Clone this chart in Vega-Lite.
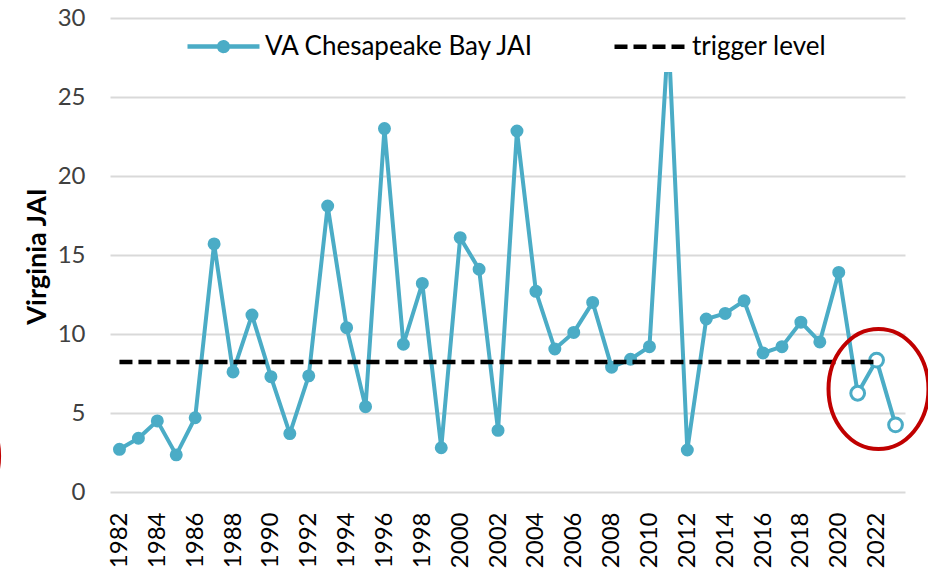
{
  "$schema": "https://vega.github.io/schema/vega-lite/v6.json",
  "width": 795,
  "height": 474,
  "autosize": {"type": "none"},
  "padding": {"left": 110, "top": 18, "right": 23, "bottom": 78},
  "background": "white",
  "config": {"view": {"stroke": null}, "font": "Lato"},
  "datasets": {
    "jai": [
      {"year": 1982, "jai": 2.7, "prelim": false},
      {"year": 1983, "jai": 3.4, "prelim": false},
      {"year": 1984, "jai": 4.5, "prelim": false},
      {"year": 1985, "jai": 2.35, "prelim": false},
      {"year": 1986, "jai": 4.7, "prelim": false},
      {"year": 1987, "jai": 15.7, "prelim": false},
      {"year": 1988, "jai": 7.6, "prelim": false},
      {"year": 1989, "jai": 11.2, "prelim": false},
      {"year": 1990, "jai": 7.3, "prelim": false},
      {"year": 1991, "jai": 3.7, "prelim": false},
      {"year": 1992, "jai": 7.35, "prelim": false},
      {"year": 1993, "jai": 18.1, "prelim": false},
      {"year": 1994, "jai": 10.4, "prelim": false},
      {"year": 1995, "jai": 5.4, "prelim": false},
      {"year": 1996, "jai": 23.0, "prelim": false},
      {"year": 1997, "jai": 9.35, "prelim": false},
      {"year": 1998, "jai": 13.2, "prelim": false},
      {"year": 1999, "jai": 2.8, "prelim": false},
      {"year": 2000, "jai": 16.1, "prelim": false},
      {"year": 2001, "jai": 14.1, "prelim": false},
      {"year": 2002, "jai": 3.9, "prelim": false},
      {"year": 2003, "jai": 22.85, "prelim": false},
      {"year": 2004, "jai": 12.7, "prelim": false},
      {"year": 2005, "jai": 9.05, "prelim": false},
      {"year": 2006, "jai": 10.1, "prelim": false},
      {"year": 2007, "jai": 12.0, "prelim": false},
      {"year": 2008, "jai": 7.9, "prelim": false},
      {"year": 2009, "jai": 8.4, "prelim": false},
      {"year": 2010, "jai": 9.2, "prelim": false},
      {"year": 2011, "jai": 29.0, "prelim": false},
      {"year": 2012, "jai": 2.66, "prelim": false},
      {"year": 2013, "jai": 10.95, "prelim": false},
      {"year": 2014, "jai": 11.3, "prelim": false},
      {"year": 2015, "jai": 12.1, "prelim": false},
      {"year": 2016, "jai": 8.8, "prelim": false},
      {"year": 2017, "jai": 9.2, "prelim": false},
      {"year": 2018, "jai": 10.75, "prelim": false},
      {"year": 2019, "jai": 9.5, "prelim": false},
      {"year": 2020, "jai": 13.9, "prelim": false},
      {"year": 2021, "jai": 6.25, "prelim": true},
      {"year": 2022, "jai": 8.35, "prelim": true},
      {"year": 2023, "jai": 4.25, "prelim": true}
    ],
    "trigger": [
      {"year": 1982, "jai": 8.23},
      {"year": 2022, "jai": 8.23}
    ],
    "circles": [
      {"year": 2022.1, "jai": 6.52},
      {"year": 1973.0, "jai": 2.28}
    ]
  },
  "encoding": {
    "x": {
      "field": "year",
      "type": "quantitative",
      "scale": {"domain": [1981.5, 2023.5], "nice": false, "zero": false},
      "axis": {
        "values": [1982, 1984, 1986, 1988, 1990, 1992, 1994, 1996, 1998, 2000, 2002, 2004, 2006, 2008, 2010, 2012, 2014, 2016, 2018, 2020, 2022],
        "format": "d",
        "labelAngle": -90,
        "labelFont": "Lato",
        "labelFontSize": 24,
        "labelColor": "black",
        "labelPadding": 20,
        "labelFlush": false,
        "labelOverlap": false,
        "ticks": false,
        "tickSize": 0,
        "domain": false,
        "grid": false,
        "title": null
      }
    },
    "y": {
      "field": "jai",
      "type": "quantitative",
      "scale": {"domain": [0, 30], "nice": false},
      "axis": {
        "values": [0, 5, 10, 15, 20, 25, 30],
        "labelFont": "Lato",
        "labelFontSize": 24,
        "labelColor": "#404040",
        "labelPadding": 25,
        "ticks": false,
        "tickSize": 0,
        "domain": false,
        "grid": true,
        "gridColor": "#D9D9D9",
        "gridWidth": 2,
        "title": "Virginia JAI",
        "titleFont": "Lato",
        "titleFontSize": 27,
        "titleFontWeight": "bold",
        "titleColor": "black",
        "titleX": -73,
        "titleY": 238,
        "titleAngle": -90,
        "titleAlign": "center",
        "titleBaseline": "middle"
      }
    }
  },
  "layer": [
    {
      "data": {"name": "jai"},
      "mark": {"type": "line", "strokeWidth": 4},
      "encoding": {
        "color": {
          "datum": "VA Chesapeake Bay JAI",
          "type": "nominal",
          "scale": {"domain": ["VA Chesapeake Bay JAI", "trigger level"], "range": ["#4BACC6", "black"]},
          "legend": {
            "orient": "none",
            "legendX": 87,
            "legendY": 2,
            "direction": "horizontal",
            "title": null,
            "fillColor": "white",
            "padding": 12,
            "symbolType": "stroke",
            "symbolSize": 576,
            "symbolStrokeWidth": 4.5,
            "labelFont": "Lato",
            "labelFontSize": 26,
            "labelColor": "black",
            "labelLimit": 600,
            "labelOffset": 27,
            "columnPadding": 70,
            "encode": {
              "symbols": {
                "update": {
                  "shape": {"signal": "datum.value === 'VA Chesapeake Bay JAI' ? 'M-3,0H3M0.36,0A0.36,0.36,0,1,1,-0.36,0A0.36,0.36,0,1,1,0.36,0Z' : 'M-3,0H3'"},
                  "fill": {"signal": "datum.value === 'VA Chesapeake Bay JAI' ? '#4BACC6' : 'transparent'"},
                  "strokeDash": {"signal": "datum.value === 'trigger level' ? [13, 6] : [1, 0]"}
                }
              }
            }
          }
        }
      }
    },
    {
      "data": {"name": "jai"},
      "mark": {"type": "point", "shape": "circle", "stroke": "#4BACC6", "strokeWidth": 2.5, "opacity": 1},
      "encoding": {
        "fill": {"condition": {"test": "datum.prelim", "value": "white"}, "value": "#4BACC6"},
        "size": {"condition": {"test": "datum.prelim", "value": 190}, "value": 110},
        "strokeWidth": {"condition": {"test": "datum.prelim", "value": 3}, "value": 2.5}
      }
    },
    {
      "data": {"name": "trigger"},
      "mark": {"type": "line", "strokeWidth": 4.5, "strokeDash": [13, 6]},
      "encoding": {
        "color": {"datum": "trigger level", "type": "nominal"}
      }
    },
    {
      "data": {"name": "circles"},
      "mark": {
        "type": "point",
        "shape": "M0.833,0A0.833,1,0,1,1,-0.833,0A0.833,1,0,1,1,0.833,0Z",
        "size": 14400,
        "stroke": "#C00000",
        "strokeWidth": 4,
        "fill": null,
        "filled": false,
        "opacity": 1,
        "clip": false
      },
      "encoding": {}
    }
  ]
}
